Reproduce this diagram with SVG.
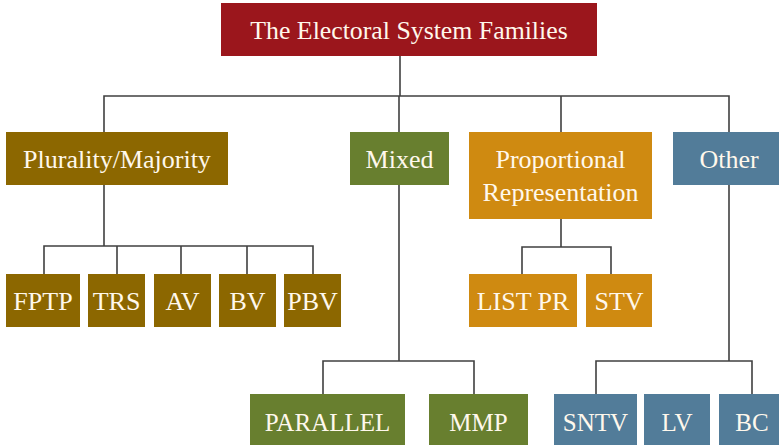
<svg xmlns="http://www.w3.org/2000/svg" width="779" height="445" viewBox="0 0 779 445">
<style>
text{font-family:"Liberation Serif","Times New Roman",serif;fill:#FFF8EC;text-anchor:middle}
.t0{font-size:25.8px}
.t1{font-size:26px}
.t2{font-size:26px}
.t3{font-size:25px}
.pm{fill:#8C6700}
.mx{fill:#687F2F}
.pr{fill:#CF8A11}
.ot{fill:#527C99}
#connectors path{fill:none;stroke:#404040;stroke-width:1.6}
</style>
<rect width="779" height="445" fill="#fff"/>
<g id="connectors">
<path d="M400 56V96M104 132V96H729V132M399 96V132M561 96V132"/>
<path d="M104 185V246M44 274V246H313V274M117 246V274M181 246V274M247 246V274"/>
<path d="M561 219V247M522 274V247H611V274"/>
<path d="M399 185V361M323 394V361H474V394"/>
<path d="M729 185V361M596 394V361H752V394"/>
</g>
<g id="title"><rect x="221" y="3" width="376" height="53" fill="#9B161C"/><text class="t0" x="409" y="39">The Electoral System Families</text></g>
<g id="plurality"><rect class="pm" x="6" y="132" width="222" height="53"/><text class="t1" x="117" y="168">Plurality/Majority</text></g>
<g id="mixed"><rect class="mx" x="350" y="132" width="99" height="53"/><text class="t1" x="399.5" y="168">Mixed</text></g>
<g id="pr"><rect class="pr" x="469" y="132" width="183" height="87"/><text class="t1" x="560.5" y="168">Proportional</text><text class="t1" x="560.5" y="201">Representation</text></g>
<g id="other"><rect class="ot" x="673" y="132" width="112" height="53"/><text class="t1" x="729" y="168">Other</text></g>
<g id="fptp"><rect class="pm" x="6" y="274" width="74" height="53"/><text class="t2" x="43" y="310">FPTP</text></g>
<g id="trs"><rect class="pm" x="88" y="274" width="57" height="53"/><text class="t2" x="116.5" y="310">TRS</text></g>
<g id="av"><rect class="pm" x="154" y="274" width="57" height="53"/><text class="t2" x="182.5" y="310">AV</text></g>
<g id="bv"><rect class="pm" x="219" y="274" width="57" height="53"/><text class="t2" x="247.5" y="310">BV</text></g>
<g id="pbv"><rect class="pm" x="284" y="274" width="57" height="53"/><text class="t2" x="312.5" y="310">PBV</text></g>
<g id="listpr"><rect class="pr" x="469" y="274" width="108" height="53"/><text class="t2" x="523" y="310">LIST PR</text></g>
<g id="stv"><rect class="pr" x="586" y="274" width="66" height="53"/><text class="t2" x="619" y="310">STV</text></g>
<g id="parallel"><rect class="mx" x="250" y="394" width="155" height="55"/><text class="t3" x="327.5" y="431">PARALLEL</text></g>
<g id="mmp"><rect class="mx" x="429" y="394" width="99" height="55"/><text class="t3" x="478.5" y="431">MMP</text></g>
<g id="sntv"><rect class="ot" x="554" y="394" width="83" height="55"/><text class="t3" x="595.5" y="431">SNTV</text></g>
<g id="lv"><rect class="ot" x="644" y="394" width="66" height="55"/><text class="t3" x="677" y="431">LV</text></g>
<g id="bc"><rect class="ot" x="719" y="394" width="66" height="55"/><text class="t3" x="752" y="431">BC</text></g>
</svg>
